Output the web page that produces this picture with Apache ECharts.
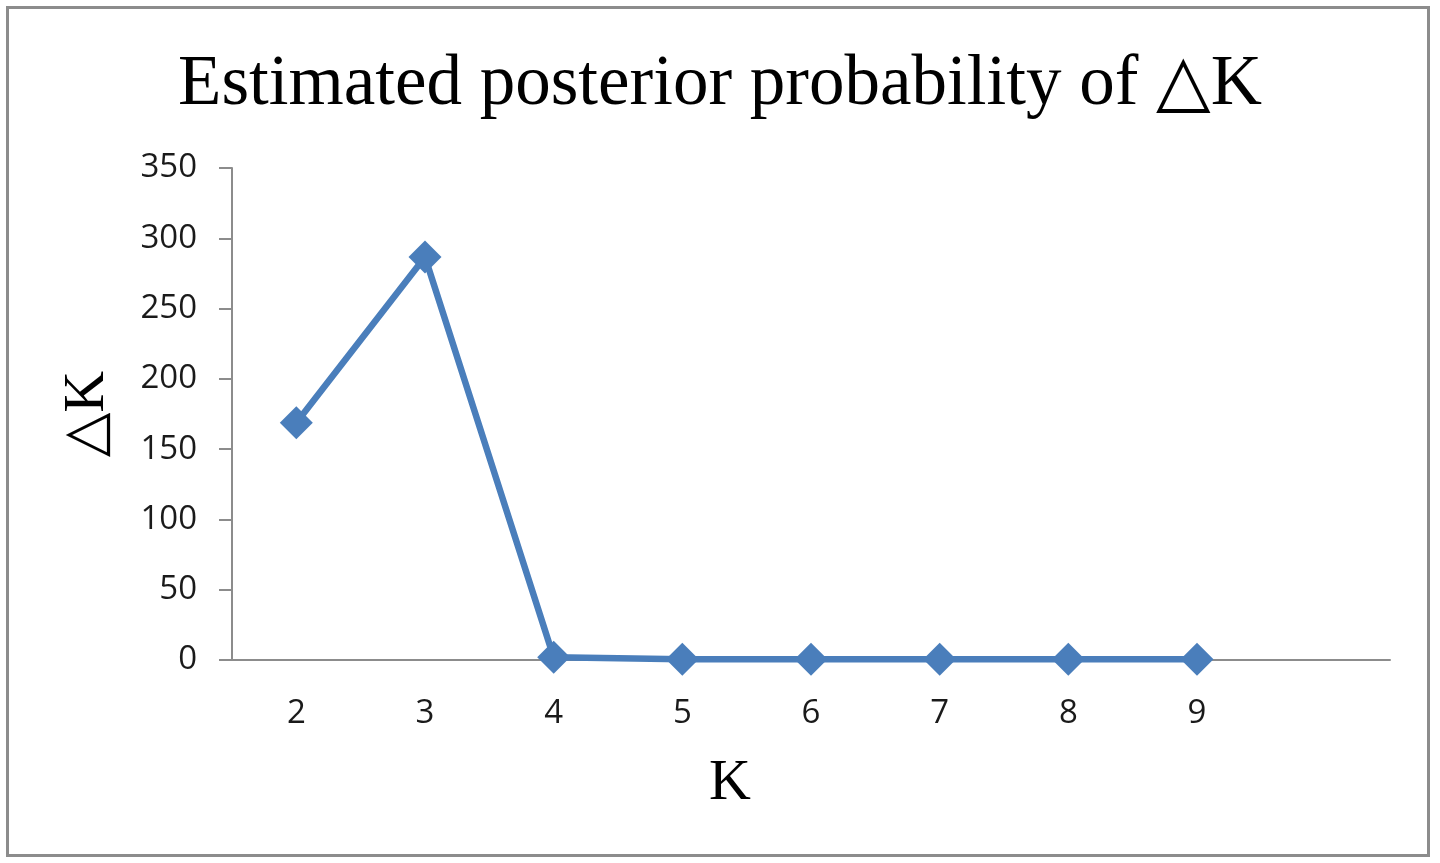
<!DOCTYPE html>
<html>
<head>
<meta charset="utf-8">
<script src="https://cdn.jsdelivr.net/npm/echarts@6/dist/echarts.min.js"></script>
<style>
html,body{margin:0;padding:0;background:#fff;}
#frame{position:absolute;left:6px;top:6px;width:1424px;height:851px;border:3px solid #8c8c8c;box-sizing:border-box;}
#chart{position:absolute;left:0;top:0;width:1440px;height:863px;}
</style>
</head>
<body>
<div id="frame"></div>
<div id="chart"></div>
<script>
const categories = ['2','3','4','5','6','7','8','9',''];
const deltaK = [168.8, 286.7, 2.0, 0.6, 0.5, 0.5, 0.5, 0.5, null];
const yTicks = { min: 0, max: 350, interval: 50 };
const titleText = 'Estimated posterior probability of \u25B3K';
const xName = 'K';
const yName = '\u25B3K';

const chart = echarts.init(document.getElementById('chart'), null, {renderer:'canvas'});
chart.setOption({
  backgroundColor: 'transparent',
  animation: false,
  title: {
    text: titleText,
    left: 'center',
    top: 45,
    textStyle: { fontFamily: '"Liberation Serif", "DejaVu Serif", serif', fontSize: 71, fontWeight: 'normal', color: '#000' }
  },
  grid: { left: 232, right: 50, top: 168, bottom: 203, containLabel: false },
  xAxis: {
    type: 'category',
    data: categories,
    boundaryGap: true,
    name: xName,
    nameLocation: 'middle',
    nameGap: 95,
    nameTextStyle: { fontFamily: '"Liberation Serif", serif', fontSize: 58, color: '#000', padding: [0, 162, 0, 0] },
    axisLine: { lineStyle: { color: '#8c8c8c', width: 2 } },
    axisTick: { show: false },
    axisLabel: { color: '#1a1a1a', fontFamily: '"Open Sans", sans-serif', fontSize: 33, margin: 37 },
    splitLine: { show: false }
  },
  yAxis: {
    type: 'value',
    min: yTicks.min, max: yTicks.max, interval: yTicks.interval,
    name: yName,
    nameLocation: 'middle',
    nameGap: 115,
    nameTextStyle: { fontFamily: '"Liberation Serif", "DejaVu Serif", serif', fontSize: 58, color: '#000' },
    axisLine: { show: true, lineStyle: { color: '#8c8c8c', width: 2 } },
    axisTick: { show: true, length: 13, lineStyle: { color: '#8c8c8c', width: 2 } },
    axisLabel: { color: '#1a1a1a', fontFamily: '"Open Sans", sans-serif', fontSize: 33, margin: 35 },
    splitLine: { show: false }
  },
  series: [{
    type: 'line',
    data: deltaK,
    symbol: 'diamond',
    symbolSize: 33,
    showAllSymbol: true,
    lineStyle: { color: '#4a7ebb', width: 6.5 },
    itemStyle: { color: '#4a7ebb' },
    z: 3
  }]
});
</script>
</body>
</html>
